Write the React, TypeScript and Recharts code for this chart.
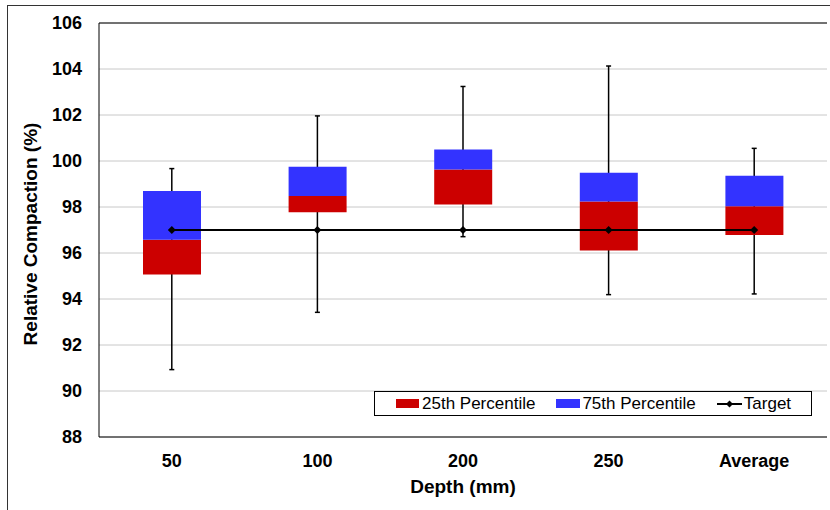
import { ComposedChart, Bar, Line, XAxis, YAxis, CartesianGrid, ErrorBar, Label, Legend, ReferenceLine } from 'recharts';

const categories = ['50', '100', '200', '250', 'Average'];
const p25 = [95.07, 97.77, 98.11, 96.11, 96.78];
const median = [96.58, 98.48, 99.63, 98.24, 98.03];
const p75 = [98.7, 99.75, 100.5, 99.49, 99.36];
const minVals = [90.93, 93.42, 96.71, 94.19, 94.22];
const maxVals = [99.67, 101.96, 103.24, 104.13, 100.55];
const target = [97, 97, 97, 97, 97];
const yTicks = [88, 90, 92, 94, 96, 98, 100, 102, 104, 106];

const FONT = '"Liberation Sans", Arial, sans-serif';
const RED = '#cc0000';
const BLUE = '#3333ff';

// box = transparent base up to 25th, red up to median, blue up to 75th
const chartData = categories.map((depth, i) => ({
  depth,
  base: p25[i],
  lower: median[i] - p25[i],
  upper: p75[i] - median[i],
  p25: p25[i],
  whisker: [p25[i] - minVals[i], maxVals[i] - p25[i]],
  target: target[i],
}));

const Diamond = (props: any) => {
  const { cx, cy } = props;
  if (cx == null || cy == null) return null;
  return <polygon points={`${cx},${cy - 4} ${cx + 4},${cy} ${cx},${cy + 4} ${cx - 4},${cy}`} fill="#000" />;
};

const LegendBox = () => (
  <div
    style={{
      width: 436,
      height: 23,
      border: '1px solid #000',
      background: '#fff',
      display: 'flex',
      alignItems: 'center',
      fontFamily: FONT,
      fontSize: 17,
      color: '#000',
      boxSizing: 'content-box',
    }}
  >
    <span style={{ width: 23, height: 9, background: RED, marginLeft: 21 }} />
    <span style={{ marginLeft: 3 }}>25th Percentile</span>
    <span style={{ width: 24, height: 9, background: BLUE, marginLeft: 21 }} />
    <span style={{ marginLeft: 2 }}>75th Percentile</span>
    <svg width={25} height={10} style={{ marginLeft: 21 }}>
      <line x1={0} y1={5} x2={25} y2={5} stroke="#000" strokeWidth={2} />
      <polygon points="12.5,1.5 16,5 12.5,8.5 9,5" fill="#000" />
    </svg>
    <span style={{ marginLeft: 2 }}>Target</span>
  </div>
);

const YLabel = (props: any) => {
  const { viewBox } = props;
  const cx = viewBox.x + 30;
  const cy = viewBox.y + viewBox.height / 2 + 4;
  return (
    <text
      x={cx}
      y={cy}
      transform={`rotate(-90, ${cx}, ${cy})`}
      textAnchor="middle"
      dominantBaseline="central"
      fontFamily={FONT}
      fontSize={19}
      fontWeight={700}
      fill="#000"
    >
      Relative Compaction (%)
    </text>
  );
};

export default function App() {
  const tickStyle = { fill: '#000', fontSize: 18, fontWeight: 700, fontFamily: FONT };
  return (
    <div style={{ position: 'absolute', left: 0, top: 0, width: 830, height: 510, overflow: 'hidden', background: '#fff' }}>
      <div style={{ position: 'absolute', left: 7, top: 5, width: 900, height: 600, border: '1px solid #333' }} />
      <div style={{ position: 'absolute', left: 0, top: 0 }}>
        <ComposedChart width={830} height={510} data={chartData} margin={{ top: 23, right: 3, left: 0, bottom: 0 }} style={{ fontFamily: FONT }}>
          <CartesianGrid vertical={false} stroke="#c8c8c8" strokeWidth={1} />
          <XAxis
            dataKey="depth"
            height={73}
            tickLine={false}
            tickSize={0}
            tickMargin={17}
            axisLine={{ stroke: '#000' }}
            tick={tickStyle}
          >
            <Label value="Depth (mm)" position="insideBottom" offset={17} style={{ fill: '#000', fontSize: 19, fontWeight: 700, fontFamily: FONT }} />
          </XAxis>
          <YAxis
            domain={[88, 106]}
            ticks={yTicks}
            width={99}
            tickLine={false}
            tickSize={0}
            tickMargin={17}
            axisLine={{ stroke: '#000' }}
            tick={tickStyle}
            allowDataOverflow
          >
            <Label content={<YLabel />} />
          </YAxis>
          <YAxis yAxisId="right" orientation="right" domain={[88, 106]} width={0} tick={false} tickLine={false} axisLine={{ stroke: '#000' }} />
          <ReferenceLine y={106} stroke="#000" strokeWidth={1} />
          {/* whiskers: invisible line at the 25th value with min/max error bars, kept below the boxes */}
          <Line dataKey="p25" stroke="none" dot={false} activeDot={false} legendType="none" isAnimationActive={false} {...({ zIndex: 150 } as any)}>
            <ErrorBar dataKey="whisker" width={2.5} stroke="#000" strokeWidth={1.5} isAnimationActive={false} {...({ zIndex: 150 } as any)} />
          </Line>
          <Bar dataKey="base" stackId="box" fill="transparent" barSize={58} legendType="none" isAnimationActive={false} />
          <Bar dataKey="lower" name="25th Percentile" stackId="box" fill={RED} barSize={58} isAnimationActive={false} />
          <Bar dataKey="upper" name="75th Percentile" stackId="box" fill={BLUE} barSize={58} isAnimationActive={false} />
          <Line dataKey="target" name="Target" stroke="#000" strokeWidth={2} dot={<Diamond />} activeDot={false} isAnimationActive={false} />
          <Legend
            layout="horizontal"
            verticalAlign="middle"
            align="center"
            content={<LegendBox />}
            wrapperStyle={{ position: 'absolute', left: 374, top: 391, width: 438, height: 25 }}
          />
        </ComposedChart>
      </div>
    </div>
  );
}
